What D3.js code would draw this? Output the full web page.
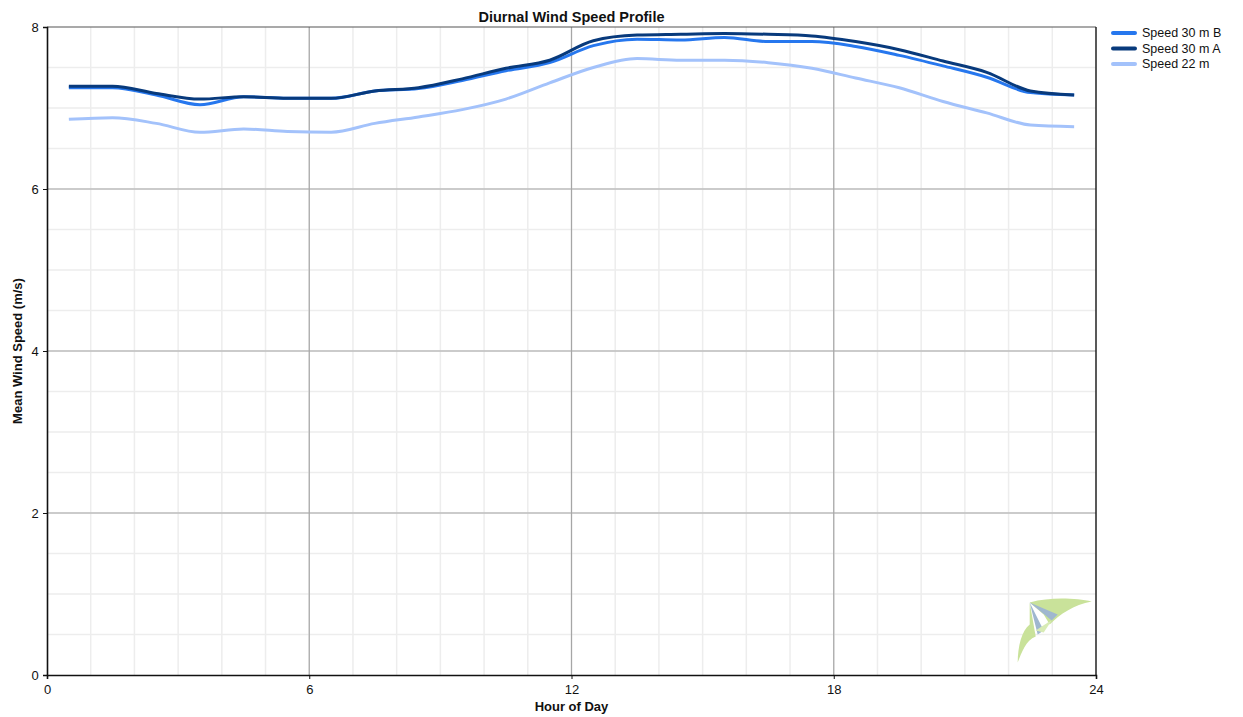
<!DOCTYPE html>
<html>
<head>
<meta charset="utf-8">
<script src="https://cdn.jsdelivr.net/npm/d3@7/dist/d3.min.js"></script>
<style>
  html, body { margin: 0; padding: 0; background: #fff; }
  svg { display: block; font-family: "Liberation Sans", Arial, sans-serif; }
</style>
</head>
<body>
<svg id="chart" width="1243" height="717"></svg>
<script>
// ---- Data ----
const hours = [0.5,1.5,2.5,3.5,4.5,5.5,6.5,7.5,8.5,9.5,10.5,11.5,12.5,13.5,14.5,15.5,16.5,17.5,18.5,19.5,20.5,21.5,22.5,23.5];
const speed30B = [7.25,7.25,7.16,7.04,7.14,7.12,7.12,7.21,7.24,7.34,7.46,7.56,7.77,7.85,7.84,7.87,7.82,7.82,7.76,7.65,7.52,7.38,7.19,7.16];
const speed30A = [7.27,7.27,7.18,7.11,7.14,7.12,7.12,7.21,7.25,7.36,7.49,7.59,7.83,7.90,7.91,7.92,7.91,7.89,7.82,7.72,7.58,7.44,7.21,7.16];
const speed22  = [6.86,6.88,6.81,6.70,6.74,6.71,6.70,6.81,6.89,6.98,7.11,7.31,7.50,7.61,7.59,7.59,7.56,7.49,7.37,7.25,7.08,6.94,6.79,6.77];
const seriesNames = ["Speed 30 m B", "Speed 30 m A", "Speed 22 m"];
const seriesColors = ["#2677ee", "#083a7c", "#a3c2fb"];
const xTicks = [0, 6, 12, 18, 24];
const yTicks = [0, 2, 4, 6, 8];

const series = [
  { name: seriesNames[0], values: speed30B, color: seriesColors[0] },
  { name: seriesNames[1], values: speed30A, color: seriesColors[1] },
  { name: seriesNames[2], values: speed22,  color: seriesColors[2] }
];

// ---- Layout ----
const svg = d3.select("#chart");
const m = { left: 47, top: 27, right: 1096, bottom: 675 };
const x = d3.scaleLinear().domain([0, 24]).range([m.left, m.right]);
const y = d3.scaleLinear().domain([0, 8]).range([m.bottom, m.top]);

// minor grid
const g = svg.append("g");
g.selectAll(".vmin").data(d3.range(1, 24)).join("line")
  .attr("x1", d => x(d)).attr("x2", d => x(d))
  .attr("y1", m.top).attr("y2", m.bottom)
  .attr("stroke", "#ededed").attr("stroke-width", 1.5);
g.selectAll(".hmin").data(d3.range(0.5, 8, 0.5)).join("line")
  .attr("x1", m.left).attr("x2", m.right)
  .attr("y1", d => y(d)).attr("y2", d => y(d))
  .attr("stroke", "#ededed").attr("stroke-width", 1.5);
// major grid
g.selectAll(".vmaj").data([6, 12, 18]).join("line")
  .attr("x1", d => x(d)).attr("x2", d => x(d))
  .attr("y1", m.top).attr("y2", m.bottom)
  .attr("stroke", "#a6a6a6").attr("stroke-width", 1.2);
g.selectAll(".hmaj").data([2, 4, 6]).join("line")
  .attr("x1", m.left).attr("x2", m.right)
  .attr("y1", d => y(d)).attr("y2", d => y(d))
  .attr("stroke", "#a6a6a6").attr("stroke-width", 1.2);

// logo (decoration)
const logo = svg.append("g").attr("transform", `translate(${x(22.3)},${y(0.92)})`);
logo.append("path").attr("d", "M8,2 C30,-4 55,-2 70,1 C52,4 38,14 28,24 L22,14 Z").attr("fill", "#c9e29a");
logo.append("path").attr("d", "M8,2 L14,36 C4,40 0,52 -4,62 C-4,46 0,30 8,24 Z").attr("fill", "#c9e29a");
logo.append("path").attr("d", "M8,2 L36,14 L30,20 Z").attr("fill", "#9fb7cf");
logo.append("path").attr("d", "M8,2 L22,30 L16,34 Z").attr("fill", "#9fb7cf");
logo.append("path").attr("d", "M14,30 C20,26 26,22 30,20 L22,32 Z").attr("fill", "#d8ebb5");

// frame top/right
svg.append("line").attr("x1", m.left).attr("x2", m.right).attr("y1", m.top).attr("y2", m.top)
  .attr("stroke", "#555").attr("stroke-width", 1.2);
svg.append("line").attr("x1", m.right).attr("x2", m.right).attr("y1", m.top).attr("y2", m.bottom)
  .attr("stroke", "#222").attr("stroke-width", 1.5);

// lines
const line = d3.line().x((d, i) => x(hours[i])).y(d => y(d)).curve(d3.curveMonotoneX);
const drawOrder = [2, 0, 1];
drawOrder.forEach(k => {
  svg.append("path").datum(series[k].values)
    .attr("d", line).attr("fill", "none")
    .attr("stroke", series[k].color).attr("stroke-width", 3)
    .attr("stroke-linejoin", "round");
});

// axes
const xAxis = d3.axisBottom(x).tickValues(xTicks).tickSize(4).tickFormat(d3.format("d"));
const yAxis = d3.axisLeft(y).tickValues(yTicks).tickSize(4).tickFormat(d3.format("d"));
const gx = svg.append("g").attr("transform", `translate(0,${m.bottom})`).call(xAxis);
const gy = svg.append("g").attr("transform", `translate(${m.left},0)`).call(yAxis);
[gx, gy].forEach(a => {
  a.select(".domain").attr("stroke", "#111").attr("stroke-width", 1.6);
  a.selectAll(".tick line").attr("stroke", "#111");
  a.selectAll(".tick text").attr("font-size", 13).attr("fill", "#111")
    .attr("font-family", '"Liberation Sans", Arial, sans-serif');
});
gx.selectAll(".tick text").attr("dy", "0.9em");
gy.selectAll(".tick text").attr("dx", "-0.1em");

// titles
svg.append("text").attr("x", (m.left + m.right) / 2).attr("y", 22)
  .attr("text-anchor", "middle").attr("font-size", 14.5).attr("font-weight", "bold")
  .attr("fill", "#111").text("Diurnal Wind Speed Profile");
svg.append("text").attr("x", (m.left + m.right) / 2).attr("y", 711)
  .attr("text-anchor", "middle").attr("font-size", 13).attr("font-weight", "bold")
  .attr("fill", "#111").text("Hour of Day");
svg.append("text").attr("transform", `translate(22,${(m.top + m.bottom) / 2}) rotate(-90)`)
  .attr("text-anchor", "middle").attr("font-size", 13).attr("font-weight", "bold")
  .attr("fill", "#111").text("Mean Wind Speed (m/s)");

// legend
const lg = svg.append("g").attr("transform", "translate(1113,33)");
series.forEach((s, i) => {
  lg.append("line").attr("x1", 0).attr("x2", 22).attr("y1", i * 15.5).attr("y2", i * 15.5)
    .attr("stroke", s.color).attr("stroke-width", 4).attr("stroke-linecap", "round");
  lg.append("text").attr("x", 29).attr("y", i * 15.5).attr("dy", "0.35em")
    .attr("font-size", 12.5).attr("fill", "#111").text(s.name);
});
</script>
</body>
</html>
